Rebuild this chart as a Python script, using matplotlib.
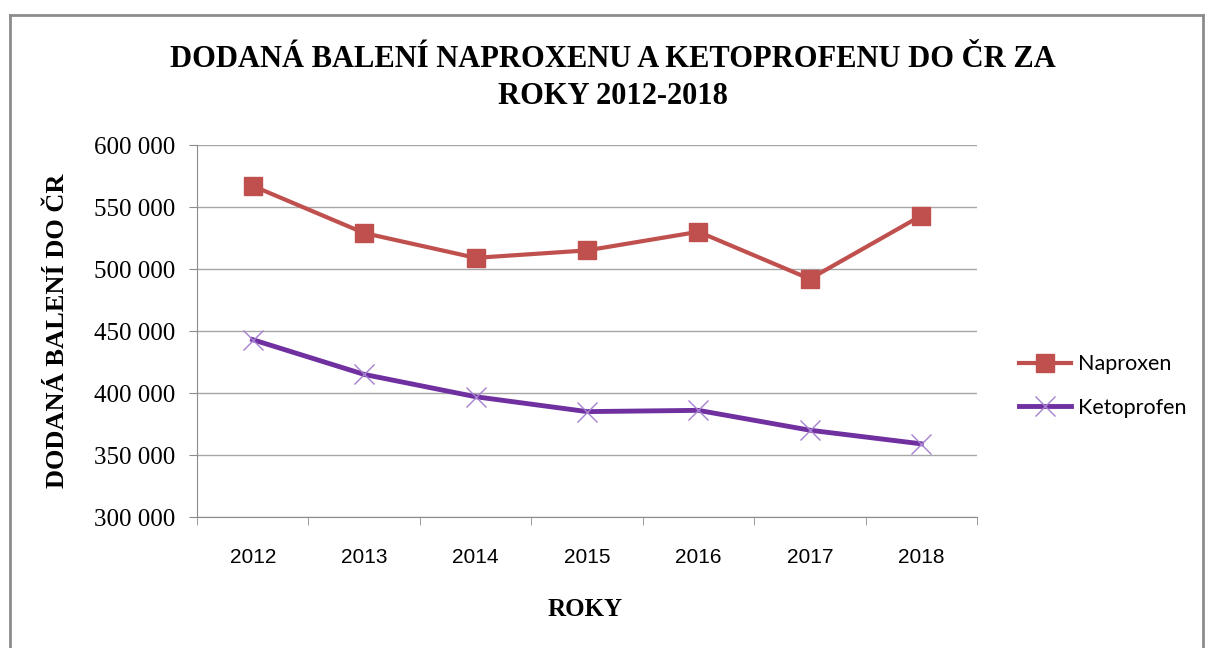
import matplotlib.pyplot as plt
from matplotlib.lines import Line2D
from matplotlib.ticker import FuncFormatter, FixedLocator

# data
years = ['2012', '2013', '2014', '2015', '2016', '2017', '2018']
naproxen = [567000, 529000, 509000, 515000, 530000, 492000, 543000]
ketoprofen = [443000, 415000, 397000, 385000, 386000, 370000, 359000]

fig = plt.figure(figsize=(12.06, 6.48), dpi=100)
ax = fig.add_axes([197 / 1206, 131 / 648, 780 / 1206, 372 / 648])

x = range(len(years))
ax.plot(x, naproxen, color='#C0504D', lw=3, marker='s', ms=13,
        mec='#C0504D', mfc='#C0504D', label='Naproxen', zorder=3)
ax.plot(x, ketoprofen, color='#7030A0', lw=3.5, zorder=3)
ax.plot(x, ketoprofen, ls='none', marker='x', ms=14, mew=1,
        color='#A57FD0', zorder=4)

ax.set_xlim(-0.5, 6.5)
ax.set_ylim(300000, 600000)
ax.set_yticks(range(300000, 600001, 50000))
ax.yaxis.set_major_formatter(FuncFormatter(lambda v, p: f'{int(v):,}'.replace(',', ' ')))
ax.set_xticks(list(x))
ax.set_xticklabels(years)
ax.xaxis.set_minor_locator(FixedLocator([i - 0.5 for i in range(len(years) + 1)]))

ax.grid(axis='y', color='#A6A6A6', lw=1)
ax.set_axisbelow(True)
for s in ['top', 'right']:
    ax.spines[s].set_visible(False)
for s in ['left', 'bottom']:
    ax.spines[s].set_color('#8C8C8C')

ax.tick_params(axis='x', which='major', length=0, pad=22, labelsize=15)
ax.tick_params(axis='x', which='minor', length=6, color='#8C8C8C')
ax.tick_params(axis='y', length=6, color='#8C8C8C', pad=10, labelsize=18)
for t in ax.get_xticklabels():
    t.set_family(['Liberation Sans Narrow', 'Liberation Sans'])
for t in ax.get_yticklabels():
    t.set_family('Liberation Serif')

fig.text(0.508, 0.88, 'DODANÁ BALENÍ NAPROXENU A KETOPROFENU DO ČR ZA\nROKY 2012-2018',
         ha='center', va='center', fontsize=22, fontweight='bold',
         family='Liberation Serif', linespacing=1.35)
fig.text(0.048, 0.489, 'DODANÁ BALENÍ DO ČR', rotation=90, ha='center', va='center',
         fontsize=19, fontweight='bold', family='Liberation Serif')
fig.text(0.485, 0.059, 'ROKY', ha='center', va='center', fontsize=18,
         fontweight='bold', family='Liberation Serif')

handles = [
    Line2D([], [], color='#C0504D', lw=3, marker='s', ms=13),
    Line2D([], [], color='#7030A0', lw=3.5, marker='x', ms=14, mew=1, mec='#A57FD0'),
]
fig.legend(handles, ['Naproxen', 'Ketoprofen'], loc='center left',
           bbox_to_anchor=(1000 / 1206, 1 - 386 / 648), frameon=False,
           prop={'family': 'Lato', 'size': 15.5}, labelspacing=1.1,
           handlelength=2.4, handletextpad=0.3)

# outer chart frame
fig.add_artist(Line2D([10 / 1206, 10 / 1206], [0, 1 - 15 / 648], color='#8C8C8C', lw=2))
fig.add_artist(Line2D([10 / 1206, 1203 / 1206], [1 - 15 / 648, 1 - 15 / 648], color='#8C8C8C', lw=2))
fig.add_artist(Line2D([1203 / 1206, 1203 / 1206], [0, 1 - 15 / 648], color='#8C8C8C', lw=2))

fig.savefig('out.png', dpi=100)
